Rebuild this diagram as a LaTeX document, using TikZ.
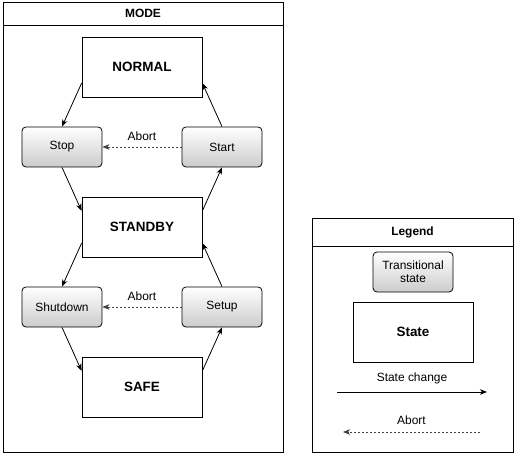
\documentclass[tikz,border=0pt]{standalone}
\usepackage{fontspec}
\setmainfont{Liberation Sans}
\usetikzlibrary{arrows.meta}
\tikzset{every picture/.style={line width=.8bp}}

\begin{document}
\begin{tikzpicture}[x=1bp,y=-1bp,>={Stealth[length=7bp,width=5.5bp,inset=2bp]},
  every node/.style={font=\fontsize{12}{14}\selectfont},
  frame/.style={draw=black,inner sep=0pt,outer sep=0pt},
  state/.style={draw=black,minimum width=120bp,minimum height=60bp,
                inner sep=0pt,font=\fontsize{13.5}{16}\selectfont\bfseries},
  transit/.style={draw=black,rounded corners=4bp,minimum width=80bp,
                  minimum height=40bp,inner sep=0pt,align=center,
                  top color=white,bottom color=black!20},
  change/.style={->,line width=.8bp},
  abort/.style={->,black!75,dash pattern=on 2bp off 2bp}]

  \useasboundingbox (0,0) rectangle (514,454);

  % Mode container with its header strip.
  \node[frame,minimum width=280bp,minimum height=450bp] (mode) at (143,227) {};
  \draw (mode.north west) ++(0,23) coordinate (mh) -- (mh -| mode.east);
  \node[font=\fontsize{12}{14}\selectfont\bfseries] (modett) at (143,13.5) {MODE};

  % Stable states down the middle, transitional states at the sides.
  \node[state] (normal) at (142,67) {NORMAL};
  \node[state] (standby) at (142,227) {STANDBY};
  \node[state] (safe) at (142,387) {SAFE};
  \node[transit] (stop) at (62,147) {Stop};
  \node[transit] (start) at (222,147) {Start};
  \node[transit] (shutdown) at (62,307) {Shutdown};
  \node[transit] (setup) at (222,307) {Setup};

  % State changes.
  \draw[change] (normal.195) -- (stop.north);
  \draw[change] (stop.south) -- (standby.165);
  \draw[change] (standby.15) -- (start.south);
  \draw[change] (start.north) -- (normal.-15);
  \draw[change] (standby.195) -- (shutdown.north);
  \draw[change] (shutdown.south) -- (safe.165);
  \draw[change] (safe.15) -- (setup.south);
  \draw[change] (setup.north) -- (standby.-15);

  % Aborts.
  \draw[abort] (start.west) -- node[above=3bp,black] (ab1) {Abort} (stop.east);
  \draw[abort] (setup.west) -- node[above=3bp,black] (ab2) {Abort} (shutdown.east);

  % Legend.
  \node[frame,minimum width=201bp,minimum height=234bp] (legend) at (412.5,335) {};
  \draw (legend.north west) ++(0,28) coordinate (lh) -- (lh -| legend.east);
  \node[font=\fontsize{12}{14}\selectfont\bfseries] (legtt) at (412.5,232.5) {Legend};
  \node[transit,font=\fontsize{12}{13}\selectfont] (ltrans) at (413,272)
    {Transitional\\state};
  \node[state] (lstate) at (413,332) {State};
  \coordinate (cha) at (337,392);
  \coordinate (chb) at (487,392);
  \draw[change] (cha) -- node[above=4bp] (chtxt) {State change} (chb);
  \coordinate (aba) at (480,432);
  \coordinate (abb) at (343,432);
  \draw[abort] (aba) -- node[above=4bp,black] (abtxt) {Abort} (abb);
\end{tikzpicture}
\end{document}
